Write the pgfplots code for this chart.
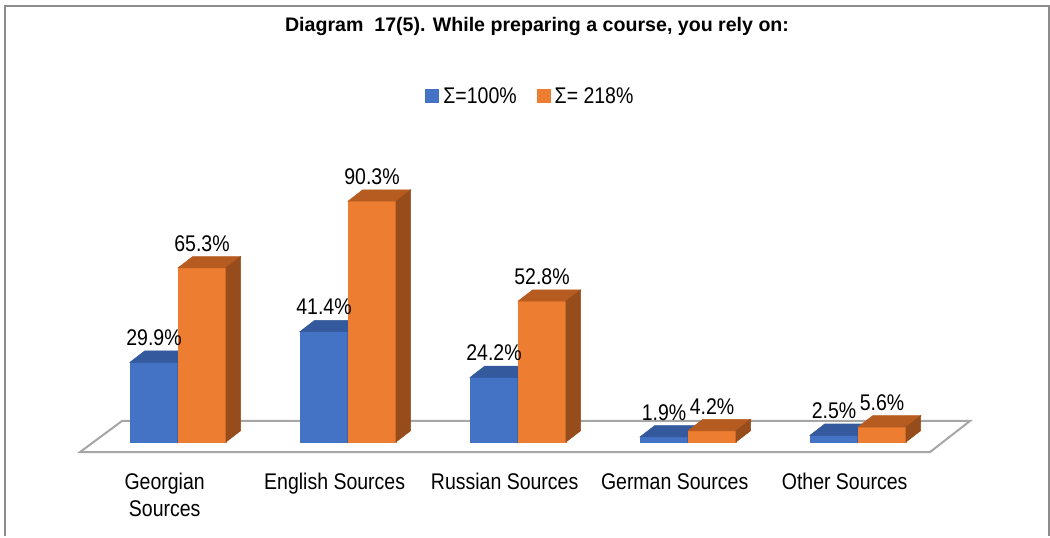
\documentclass[border=0pt]{standalone}
\usepackage{fontspec}
\setmainfont{Liberation Sans}
\newfontfamily\nf[FakeStretch=0.86]{Liberation Sans}
\usepackage{pgfplots}
\usepackage{pgfplotstable}
\pgfplotsset{compat=1.18}

\definecolor{cblue}{HTML}{4472C4}
\definecolor{cbluetop}{HTML}{34599C}
\definecolor{cblueside}{HTML}{2C4C86}
\definecolor{corange}{HTML}{ED7D31}
\definecolor{corangetop}{HTML}{B65C21}
\definecolor{corangeside}{HTML}{974C1B}
\definecolor{floorgray}{HTML}{A6A6A6}
\definecolor{framegray}{HTML}{8C8C8C}

\newcommand\lblfont{\nf\fontsize{17}{20}\selectfont}

% share of respondents, %
\pgfplotstableread{
x blue orange
0 29.9 65.3
1 41.4 90.3
2 24.2 52.8
3 1.9  4.2
4 2.5  5.6
}\data

\pgfdeclareplotmark{nothing}{}
\def\dx{11pt}
\def\dy{8.5pt}

\pgfplotsset{
  % the three visible faces of each bar (marks are drawn after all paths,
  % so the front face is repeated here to keep the right stacking order)
  % #1 left, #2 right, #3 front colour, #4 top colour, #5 side colour
  faces/.style n args={5}{
    forget plot, scatter, only marks, mark=nothing,
    visualization depends on={y \as \hgt},
    scatter/@pre marker code/.code={
      \pgfmathsetmacro\hh{2*\hgt}
      \fill[#3] (#1,-\hh pt) rectangle (#2,0pt);
      \fill[#4] (#1,0pt) -- (#2,0pt) -- ++(\dx,\dy) -- ([shift={(\dx,\dy)}]#1,0pt) -- cycle;
      \fill[#5] (#2,0pt) -- ++(\dx,\dy) -- ++(0pt,-\hh pt) -- (#2,-\hh pt) -- cycle;
    },
    scatter/@post marker code/.code={},
  },
  labels/.style={
    forget plot, only marks, mark=nothing,
    point meta=explicit symbolic,
    nodes near coords={\pgfplotspointmeta\%},
    nodes near coords style={anchor=base, xshift=#1, yshift=12.5pt, font=\lblfont, text=black},
  },
}

\begin{document}
\begin{tikzpicture}
\begin{axis}[
  x=127.5pt, y=2pt,
  xmin=-0.6, xmax=4.7, ymin=-5, ymax=100,
  clip=false,
  axis line style={draw=none},
  tick style={draw=none},
  ytick=\empty,
  xtick={0,...,4},
  xticklabels={{Georgian\\Sources},English Sources,Russian Sources,German Sources,Other Sources},
  xticklabel style={align=center, font=\lblfont, xshift=-10pt, yshift=-10pt},
  legend image code/.code={\fill[#1] (0pt,-5.25pt) rectangle (10.5pt,5.25pt);},
  legend style={at={(0.504,1.283)}, anchor=center, draw=none, fill=none,
    legend columns=2, font=\lblfont, nodes={inner xsep=1pt},
    /tikz/every odd column/.append style={column sep=2pt},
    /tikz/every even column/.append style={column sep=14pt}},
]
% floor
\addplot[forget plot, fill=white, draw=floorgray, line width=1.5pt]
  coordinates {(-0.576,-3.75) (-0.329,7.9) (4.659,7.9) (4.424,-3.75)} -- cycle;

\addplot[ybar, bar width=36pt, bar shift=-18pt, fill=cblue, draw=none]
  table[x=x, y=blue] {\data};
\addlegendentry{Σ=100\%}
\addplot[ybar, bar width=36pt, bar shift=18pt, fill=corange, draw=none]
  table[x=x, y=orange] {\data};
\addlegendentry{Σ= 218\%}

\addplot[faces={-36pt}{0pt}{cblue}{cbluetop}{cblueside}] table[x=x, y=blue] {\data};
\addplot[faces={0pt}{36pt}{corange}{corangetop}{corangeside}] table[x=x, y=orange] {\data};

\addplot[labels=-18pt] table[x=x, y=blue, meta=blue] {\data};
\addplot[labels=18pt] table[x=x, y=orange, meta=orange] {\data};

\node[font=\bfseries\fontsize{14.7}{17}\selectfont, anchor=base] at (axis cs:2.112,153.9)
  {Diagram~~17(5). While preparing a course, you rely on:};

% frame and page size
\draw[framegray, line width=1.5pt] (axis cs:-1.0176,-35.25) |- (axis cs:5.1235,163.5) -- (axis cs:5.1235,-35.25);
\path (axis cs:-1.0471,165.75) rectangle (axis cs:5.1294,-35.25);
\end{axis}
\end{tikzpicture}
\end{document}
